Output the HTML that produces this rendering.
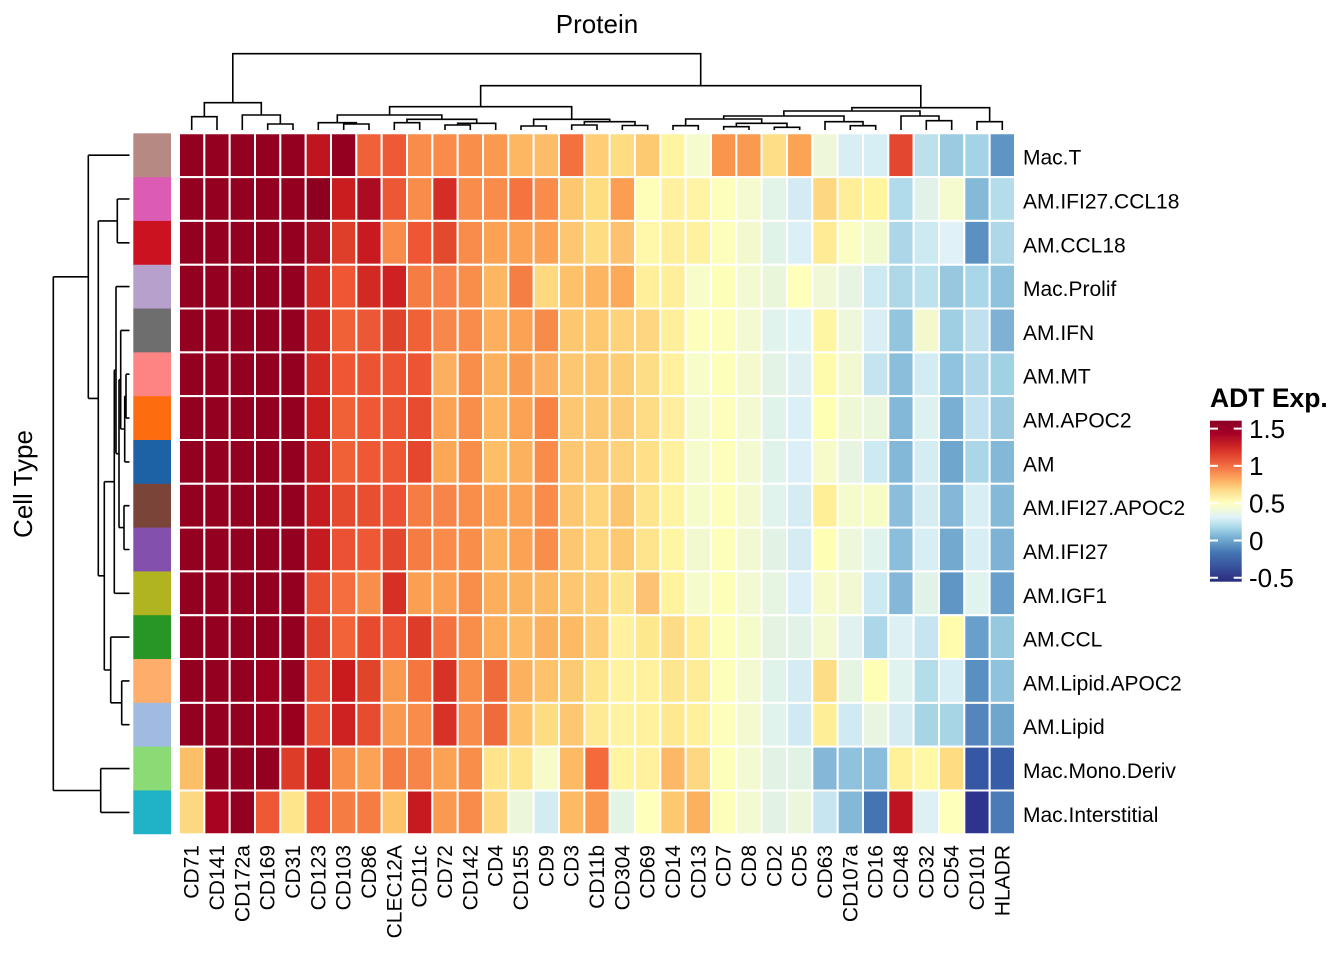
<!DOCTYPE html>
<html><head><meta charset="utf-8"><style>
html,body{margin:0;padding:0;background:#fff}
svg{display:block}
.h rect{vector-effect:non-scaling-stroke}
text{font-family:"Liberation Sans",Arial,sans-serif;fill:#000}
</style></head><body>
<svg width="1344" height="960" viewBox="0 0 1344 960" xmlns="http://www.w3.org/2000/svg">
<rect width="1344" height="960" fill="#fff"/>
<text x="597" y="33" font-size="26" text-anchor="middle">Protein</text>
<text transform="translate(32,484) rotate(-90)" font-size="26" text-anchor="middle">Cell Type</text>

<!-- top dendrogram -->
<path fill="none" stroke="#000" stroke-width="1.6" d="
M191.7 130V116.7H217V130
M267.7 130V124H293V130
M242.3 130V115H280.35V124
M204.35 116.7V102.7H261.3V115
M343.7 130V124H369V130
M318.3 130V122.7H356.35V124
M394.3 130V122.7H419.7V130
M445 130V125H470.3V130
M457.65 125V123.3H495.7V130
M407 122.7V119.3H476.7V123.3
M337.3 122.7V115H441.85V119.3
M521 130V126H546.3V130
M571.7 130V125H597V130
M622.3 130V125.5H647.7V130
M584.35 125V121.7H635V125.5
M533.65 126V119.3H609.7V121.7
M389.6 115V106.7H571.7V119.3
M673 130V125.7H698.3V130
M723.7 130V126.7H749V130
M774.3 130V127.3H799.7V130
M736.35 126.7V123.3H787V127.3
M685.65 125.7V119H761.7V123.3
M850.3 130V125.7H875.7V130
M825 130V121.7H863V125.7
M723.7 119V116H844V121.7
M926.3 130V120.7H951.7V130
M901 130V116H939V120.7
M783.85 116V111H920V116
M977 130V121.7H1002.3V130
M851.9 111V107.7H989.65V121.7
M480.65 106.7V85.7H920.8V107.7
M232.8 102.7V53.7H700.7V85.7"/>

<!-- left dendrogram -->
<path fill="none" stroke="#000" stroke-width="1.6" d="
M53.3 276.8V790.5 M53.3 276.8H88.3 M53.3 790.5H100.7
M88.3 155.2V398.4 M88.3 155.2H129.5 M88.3 398.4H98.3
M98.3 220.9V575.8 M98.3 220.9H117.3 M98.3 575.8H104.3
M117.3 199V242.8 M117.3 199H129.5 M117.3 242.8H129.5
M104.3 481.7V670 M104.3 481.7H114.3 M104.3 670H110.7
M110.7 637.1V702.8 M110.7 637.1H129.5 M110.7 702.8H121.7
M121.7 680.9V724.7 M121.7 680.9H129.5 M121.7 724.7H129.5
M114.3 370.1V593.3 M114.3 370.1H116 M114.3 593.3H129.5
M116 286.6V453.65 M116 286.6H129.5 M116 453.65H119
M119 379.7V527.6 M119 379.7H120.7 M119 527.6H124
M124 505.7V549.5 M124 505.7H129.5 M124 549.5H129.5
M120.7 330.4V429 M120.7 330.4H129.5 M120.7 429H124.7
M124.7 396.15V461.9 M124.7 396.15H126 M124.7 461.9H129.5
M126 374.2V418.1 M126 374.2H129.5 M126 418.1H129.5
M100.7 768.6V812.4 M100.7 768.6H129.5 M100.7 812.4H129.5"/>

<!-- annotation -->
<g transform="translate(133.3 133.3) scale(37.7 43.81)">
<rect x="0" y="0" width="1" height="1.02" fill="#B68A82"/>
<rect x="0" y="1" width="1" height="1.02" fill="#DC5CB4"/>
<rect x="0" y="2" width="1" height="1.02" fill="#CB1220"/>
<rect x="0" y="3" width="1" height="1.02" fill="#B8A0CC"/>
<rect x="0" y="4" width="1" height="1.02" fill="#6E6E6E"/>
<rect x="0" y="5" width="1" height="1.02" fill="#FE8484"/>
<rect x="0" y="6" width="1" height="1.02" fill="#FE6C10"/>
<rect x="0" y="7" width="1" height="1.02" fill="#1E62A6"/>
<rect x="0" y="8" width="1" height="1.02" fill="#7A4438"/>
<rect x="0" y="9" width="1" height="1.02" fill="#8450AE"/>
<rect x="0" y="10" width="1" height="1.02" fill="#B0B420"/>
<rect x="0" y="11" width="1" height="1.02" fill="#289626"/>
<rect x="0" y="12" width="1" height="1.02" fill="#FEAE6A"/>
<rect x="0" y="13" width="1" height="1.02" fill="#A0BAE2"/>
<rect x="0" y="14" width="1" height="1.02" fill="#8ADA76"/>
<rect x="0" y="15" width="1" height="1" fill="#20B2C6"/>
</g>

<!-- heatmap -->
<g class="h" transform="translate(179 133.3) scale(25.333 43.81)" stroke="#fff" stroke-width="2">
<g transform="translate(0 0)">
<rect x="0" width="1" height="1" fill="#940020"/><rect x="1" width="1" height="1" fill="#940020"/><rect x="2" width="1" height="1" fill="#940020"/><rect x="3" width="1" height="1" fill="#940020"/><rect x="4" width="1" height="1" fill="#940020"/><rect x="5" width="1" height="1" fill="#C0141F"/><rect x="6" width="1" height="1" fill="#940020"/><rect x="7" width="1" height="1" fill="#F06138"/><rect x="8" width="1" height="1" fill="#EE5A36"/><rect x="9" width="1" height="1" fill="#F98C4A"/><rect x="10" width="1" height="1" fill="#F98C4A"/><rect x="11" width="1" height="1" fill="#F98E4A"/><rect x="12" width="1" height="1" fill="#F99A50"/><rect x="13" width="1" height="1" fill="#FDB762"/><rect x="14" width="1" height="1" fill="#FDBD68"/><rect x="15" width="1" height="1" fill="#F4713F"/><rect x="16" width="1" height="1" fill="#FDCE76"/><rect x="17" width="1" height="1" fill="#FEDC82"/><rect x="18" width="1" height="1" fill="#FDCA72"/><rect x="19" width="1" height="1" fill="#FFF4A0"/><rect x="20" width="1" height="1" fill="#F6FBCB"/><rect x="21" width="1" height="1" fill="#F9954C"/><rect x="22" width="1" height="1" fill="#F99A50"/><rect x="23" width="1" height="1" fill="#FEDF85"/><rect x="24" width="1" height="1" fill="#FCA455"/><rect x="25" width="1" height="1" fill="#EEF8D8"/><rect x="26" width="1" height="1" fill="#D8EEF5"/><rect x="27" width="1" height="1" fill="#D8EEF5"/><rect x="28" width="1" height="1" fill="#E3472F"/><rect x="29" width="1" height="1" fill="#BCE0EC"/><rect x="30" width="1" height="1" fill="#9ACBE1"/><rect x="31" width="1" height="1" fill="#A4D3E6"/><rect x="32" width="1" height="1" fill="#5F95C5"/>
</g>
<g transform="translate(0 1)">
<rect x="0" width="1" height="1" fill="#940020"/><rect x="1" width="1" height="1" fill="#940020"/><rect x="2" width="1" height="1" fill="#940020"/><rect x="3" width="1" height="1" fill="#940020"/><rect x="4" width="1" height="1" fill="#940020"/><rect x="5" width="1" height="1" fill="#8E0020"/><rect x="6" width="1" height="1" fill="#C91E1F"/><rect x="7" width="1" height="1" fill="#AC0C21"/><rect x="8" width="1" height="1" fill="#EC5836"/><rect x="9" width="1" height="1" fill="#F98C4A"/><rect x="10" width="1" height="1" fill="#D42D25"/><rect x="11" width="1" height="1" fill="#F98C4A"/><rect x="12" width="1" height="1" fill="#F98C4A"/><rect x="13" width="1" height="1" fill="#F4733F"/><rect x="14" width="1" height="1" fill="#F98C4A"/><rect x="15" width="1" height="1" fill="#FDC770"/><rect x="16" width="1" height="1" fill="#FEDC80"/><rect x="17" width="1" height="1" fill="#FC9E51"/><rect x="18" width="1" height="1" fill="#FEFEB8"/><rect x="19" width="1" height="1" fill="#FFF1A0"/><rect x="20" width="1" height="1" fill="#FFF3A4"/><rect x="21" width="1" height="1" fill="#FDFEBB"/><rect x="22" width="1" height="1" fill="#F6FBCF"/><rect x="23" width="1" height="1" fill="#E2F3E7"/><rect x="24" width="1" height="1" fill="#D4EBF3"/><rect x="25" width="1" height="1" fill="#FDD880"/><rect x="26" width="1" height="1" fill="#FFEE98"/><rect x="27" width="1" height="1" fill="#FFF59F"/><rect x="28" width="1" height="1" fill="#B1DAEA"/><rect x="29" width="1" height="1" fill="#E1F3E8"/><rect x="30" width="1" height="1" fill="#F6FBCF"/><rect x="31" width="1" height="1" fill="#85B9D8"/><rect x="32" width="1" height="1" fill="#B4DCEB"/>
</g>
<g transform="translate(0 2)">
<rect x="0" width="1" height="1" fill="#940020"/><rect x="1" width="1" height="1" fill="#940020"/><rect x="2" width="1" height="1" fill="#940020"/><rect x="3" width="1" height="1" fill="#940020"/><rect x="4" width="1" height="1" fill="#940020"/><rect x="5" width="1" height="1" fill="#A90C21"/><rect x="6" width="1" height="1" fill="#DE3F2A"/><rect x="7" width="1" height="1" fill="#C81A1F"/><rect x="8" width="1" height="1" fill="#F98C4A"/><rect x="9" width="1" height="1" fill="#EE5634"/><rect x="10" width="1" height="1" fill="#E24A2D"/><rect x="11" width="1" height="1" fill="#F98C4A"/><rect x="12" width="1" height="1" fill="#FBA255"/><rect x="13" width="1" height="1" fill="#FBA255"/><rect x="14" width="1" height="1" fill="#FBA255"/><rect x="15" width="1" height="1" fill="#FDC670"/><rect x="16" width="1" height="1" fill="#FEDC82"/><rect x="17" width="1" height="1" fill="#FDC270"/><rect x="18" width="1" height="1" fill="#FFF8AA"/><rect x="19" width="1" height="1" fill="#FFEE9A"/><rect x="20" width="1" height="1" fill="#FFF29E"/><rect x="21" width="1" height="1" fill="#FDFEBB"/><rect x="22" width="1" height="1" fill="#F3F9CC"/><rect x="23" width="1" height="1" fill="#E0F3E8"/><rect x="24" width="1" height="1" fill="#DAEFF6"/><rect x="25" width="1" height="1" fill="#FFEA96"/><rect x="26" width="1" height="1" fill="#FBFEC0"/><rect x="27" width="1" height="1" fill="#F1F9CF"/><rect x="28" width="1" height="1" fill="#ACD7E8"/><rect x="29" width="1" height="1" fill="#CDE9F2"/><rect x="30" width="1" height="1" fill="#E0F1F7"/><rect x="31" width="1" height="1" fill="#5B90C3"/><rect x="32" width="1" height="1" fill="#AED8E8"/>
</g>
<g transform="translate(0 3)">
<rect x="0" width="1" height="1" fill="#940020"/><rect x="1" width="1" height="1" fill="#940020"/><rect x="2" width="1" height="1" fill="#940020"/><rect x="3" width="1" height="1" fill="#940020"/><rect x="4" width="1" height="1" fill="#940020"/><rect x="5" width="1" height="1" fill="#D32A23"/><rect x="6" width="1" height="1" fill="#EE5634"/><rect x="7" width="1" height="1" fill="#D22A23"/><rect x="8" width="1" height="1" fill="#CF2121"/><rect x="9" width="1" height="1" fill="#F57D43"/><rect x="10" width="1" height="1" fill="#F7834A"/><rect x="11" width="1" height="1" fill="#F98E4A"/><rect x="12" width="1" height="1" fill="#FDB762"/><rect x="13" width="1" height="1" fill="#F57F43"/><rect x="14" width="1" height="1" fill="#FED980"/><rect x="15" width="1" height="1" fill="#FDC16A"/><rect x="16" width="1" height="1" fill="#FDB562"/><rect x="17" width="1" height="1" fill="#FCA95A"/><rect x="18" width="1" height="1" fill="#FFEE9A"/><rect x="19" width="1" height="1" fill="#FFEE9A"/><rect x="20" width="1" height="1" fill="#F8FCC8"/><rect x="21" width="1" height="1" fill="#FDFEB7"/><rect x="22" width="1" height="1" fill="#F3F9D1"/><rect x="23" width="1" height="1" fill="#EAF6DA"/><rect x="24" width="1" height="1" fill="#FEFFBA"/><rect x="25" width="1" height="1" fill="#F1F8D5"/><rect x="26" width="1" height="1" fill="#E7F4E4"/><rect x="27" width="1" height="1" fill="#CDE9F2"/><rect x="28" width="1" height="1" fill="#AED8E8"/><rect x="29" width="1" height="1" fill="#BDE1ED"/><rect x="30" width="1" height="1" fill="#97C8E0"/><rect x="31" width="1" height="1" fill="#A9D6E8"/><rect x="32" width="1" height="1" fill="#8FC2DD"/>
</g>
<g transform="translate(0 4)">
<rect x="0" width="1" height="1" fill="#940020"/><rect x="1" width="1" height="1" fill="#940020"/><rect x="2" width="1" height="1" fill="#940020"/><rect x="3" width="1" height="1" fill="#940020"/><rect x="4" width="1" height="1" fill="#940020"/><rect x="5" width="1" height="1" fill="#D32A23"/><rect x="6" width="1" height="1" fill="#F06138"/><rect x="7" width="1" height="1" fill="#EC5836"/><rect x="8" width="1" height="1" fill="#E0432B"/><rect x="9" width="1" height="1" fill="#F06138"/><rect x="10" width="1" height="1" fill="#F7874A"/><rect x="11" width="1" height="1" fill="#F98C4A"/><rect x="12" width="1" height="1" fill="#FBAF5F"/><rect x="13" width="1" height="1" fill="#FBA255"/><rect x="14" width="1" height="1" fill="#F78B4A"/><rect x="15" width="1" height="1" fill="#FDC770"/><rect x="16" width="1" height="1" fill="#FDC870"/><rect x="17" width="1" height="1" fill="#FDD27A"/><rect x="18" width="1" height="1" fill="#FED680"/><rect x="19" width="1" height="1" fill="#FFEE9A"/><rect x="20" width="1" height="1" fill="#FDFEBB"/><rect x="21" width="1" height="1" fill="#FDFEBB"/><rect x="22" width="1" height="1" fill="#F3F9D1"/><rect x="23" width="1" height="1" fill="#E0F3EC"/><rect x="24" width="1" height="1" fill="#DFF2F4"/><rect x="25" width="1" height="1" fill="#FFF6A4"/><rect x="26" width="1" height="1" fill="#EDF7DA"/><rect x="27" width="1" height="1" fill="#DAEEF6"/><rect x="28" width="1" height="1" fill="#93C5DE"/><rect x="29" width="1" height="1" fill="#F3F9CC"/><rect x="30" width="1" height="1" fill="#9ECFE3"/><rect x="31" width="1" height="1" fill="#C0E0EE"/><rect x="32" width="1" height="1" fill="#7FB1D4"/>
</g>
<g transform="translate(0 5)">
<rect x="0" width="1" height="1" fill="#940020"/><rect x="1" width="1" height="1" fill="#940020"/><rect x="2" width="1" height="1" fill="#940020"/><rect x="3" width="1" height="1" fill="#940020"/><rect x="4" width="1" height="1" fill="#940020"/><rect x="5" width="1" height="1" fill="#D32A23"/><rect x="6" width="1" height="1" fill="#EE5634"/><rect x="7" width="1" height="1" fill="#EB5333"/><rect x="8" width="1" height="1" fill="#EC5434"/><rect x="9" width="1" height="1" fill="#EC5434"/><rect x="10" width="1" height="1" fill="#FBAF5F"/><rect x="11" width="1" height="1" fill="#F98E4A"/><rect x="12" width="1" height="1" fill="#FCB15F"/><rect x="13" width="1" height="1" fill="#F99C52"/><rect x="14" width="1" height="1" fill="#FBAF5F"/><rect x="15" width="1" height="1" fill="#FDC670"/><rect x="16" width="1" height="1" fill="#FDC670"/><rect x="17" width="1" height="1" fill="#FDCD76"/><rect x="18" width="1" height="1" fill="#FEDE84"/><rect x="19" width="1" height="1" fill="#FFF19E"/><rect x="20" width="1" height="1" fill="#F8FCC8"/><rect x="21" width="1" height="1" fill="#FDFEB9"/><rect x="22" width="1" height="1" fill="#F4F9CE"/><rect x="23" width="1" height="1" fill="#E3F3E6"/><rect x="24" width="1" height="1" fill="#DFF0F2"/><rect x="25" width="1" height="1" fill="#FFFBAC"/><rect x="26" width="1" height="1" fill="#F1F8D2"/><rect x="27" width="1" height="1" fill="#C5E4F0"/><rect x="28" width="1" height="1" fill="#8BBEDB"/><rect x="29" width="1" height="1" fill="#D3ECF3"/><rect x="30" width="1" height="1" fill="#90C3DD"/><rect x="31" width="1" height="1" fill="#B1D8EA"/><rect x="32" width="1" height="1" fill="#A0D2E3"/>
</g>
<g transform="translate(0 6)">
<rect x="0" width="1" height="1" fill="#940020"/><rect x="1" width="1" height="1" fill="#940020"/><rect x="2" width="1" height="1" fill="#940020"/><rect x="3" width="1" height="1" fill="#940020"/><rect x="4" width="1" height="1" fill="#940020"/><rect x="5" width="1" height="1" fill="#C81C1F"/><rect x="6" width="1" height="1" fill="#F06138"/><rect x="7" width="1" height="1" fill="#EE5834"/><rect x="8" width="1" height="1" fill="#EC5634"/><rect x="9" width="1" height="1" fill="#E84C30"/><rect x="10" width="1" height="1" fill="#FBA255"/><rect x="11" width="1" height="1" fill="#F98E4A"/><rect x="12" width="1" height="1" fill="#FCB560"/><rect x="13" width="1" height="1" fill="#FBA255"/><rect x="14" width="1" height="1" fill="#F78444"/><rect x="15" width="1" height="1" fill="#FDC670"/><rect x="16" width="1" height="1" fill="#FDC872"/><rect x="17" width="1" height="1" fill="#FDCA75"/><rect x="18" width="1" height="1" fill="#FEDC86"/><rect x="19" width="1" height="1" fill="#FFEE9E"/><rect x="20" width="1" height="1" fill="#F6FBCC"/><rect x="21" width="1" height="1" fill="#FDFEBB"/><rect x="22" width="1" height="1" fill="#F3F9D0"/><rect x="23" width="1" height="1" fill="#E0F3EB"/><rect x="24" width="1" height="1" fill="#DAEFF6"/><rect x="25" width="1" height="1" fill="#FEFFB2"/><rect x="26" width="1" height="1" fill="#EFF8D5"/><rect x="27" width="1" height="1" fill="#EBF7DC"/><rect x="28" width="1" height="1" fill="#84B8D8"/><rect x="29" width="1" height="1" fill="#DDF1F0"/><rect x="30" width="1" height="1" fill="#78AFD3"/><rect x="31" width="1" height="1" fill="#C2E2F0"/><rect x="32" width="1" height="1" fill="#9BCAE1"/>
</g>
<g transform="translate(0 7)">
<rect x="0" width="1" height="1" fill="#940020"/><rect x="1" width="1" height="1" fill="#940020"/><rect x="2" width="1" height="1" fill="#940020"/><rect x="3" width="1" height="1" fill="#940020"/><rect x="4" width="1" height="1" fill="#940020"/><rect x="5" width="1" height="1" fill="#C41C20"/><rect x="6" width="1" height="1" fill="#F06138"/><rect x="7" width="1" height="1" fill="#EE5834"/><rect x="8" width="1" height="1" fill="#EE5834"/><rect x="9" width="1" height="1" fill="#E5472E"/><rect x="10" width="1" height="1" fill="#FBA756"/><rect x="11" width="1" height="1" fill="#F98E4A"/><rect x="12" width="1" height="1" fill="#FDBE68"/><rect x="13" width="1" height="1" fill="#FCB15F"/><rect x="14" width="1" height="1" fill="#F98C4A"/><rect x="15" width="1" height="1" fill="#FDC670"/><rect x="16" width="1" height="1" fill="#FDC974"/><rect x="17" width="1" height="1" fill="#FDD27A"/><rect x="18" width="1" height="1" fill="#FEE088"/><rect x="19" width="1" height="1" fill="#FFF19E"/><rect x="20" width="1" height="1" fill="#F6FBCC"/><rect x="21" width="1" height="1" fill="#FDFEBB"/><rect x="22" width="1" height="1" fill="#F3F9D0"/><rect x="23" width="1" height="1" fill="#E0F3EB"/><rect x="24" width="1" height="1" fill="#DAEFF6"/><rect x="25" width="1" height="1" fill="#F6FBC9"/><rect x="26" width="1" height="1" fill="#E7F4E2"/><rect x="27" width="1" height="1" fill="#CDE9F2"/><rect x="28" width="1" height="1" fill="#84B8D8"/><rect x="29" width="1" height="1" fill="#D5ECF3"/><rect x="30" width="1" height="1" fill="#6FA6CD"/><rect x="31" width="1" height="1" fill="#AAD6E8"/><rect x="32" width="1" height="1" fill="#84B8D8"/>
</g>
<g transform="translate(0 8)">
<rect x="0" width="1" height="1" fill="#940020"/><rect x="1" width="1" height="1" fill="#940020"/><rect x="2" width="1" height="1" fill="#940020"/><rect x="3" width="1" height="1" fill="#940020"/><rect x="4" width="1" height="1" fill="#940020"/><rect x="5" width="1" height="1" fill="#C41A20"/><rect x="6" width="1" height="1" fill="#E64A2E"/><rect x="7" width="1" height="1" fill="#E84E30"/><rect x="8" width="1" height="1" fill="#EB5132"/><rect x="9" width="1" height="1" fill="#F57D43"/><rect x="10" width="1" height="1" fill="#F7854A"/><rect x="11" width="1" height="1" fill="#F98E4A"/><rect x="12" width="1" height="1" fill="#FBA255"/><rect x="13" width="1" height="1" fill="#FBA255"/><rect x="14" width="1" height="1" fill="#F98C4A"/><rect x="15" width="1" height="1" fill="#FDC670"/><rect x="16" width="1" height="1" fill="#FED57D"/><rect x="17" width="1" height="1" fill="#FDC46E"/><rect x="18" width="1" height="1" fill="#FEE48C"/><rect x="19" width="1" height="1" fill="#FFF4A2"/><rect x="20" width="1" height="1" fill="#F6FBCA"/><rect x="21" width="1" height="1" fill="#FDFEB9"/><rect x="22" width="1" height="1" fill="#F4F9D0"/><rect x="23" width="1" height="1" fill="#E0F3EC"/><rect x="24" width="1" height="1" fill="#D5ECF3"/><rect x="25" width="1" height="1" fill="#FFF098"/><rect x="26" width="1" height="1" fill="#F6FBCC"/><rect x="27" width="1" height="1" fill="#F7FCC6"/><rect x="28" width="1" height="1" fill="#8BBEDB"/><rect x="29" width="1" height="1" fill="#D5ECF3"/><rect x="30" width="1" height="1" fill="#85B8D8"/><rect x="31" width="1" height="1" fill="#D7EEF5"/><rect x="32" width="1" height="1" fill="#85B9D8"/>
</g>
<g transform="translate(0 9)">
<rect x="0" width="1" height="1" fill="#940020"/><rect x="1" width="1" height="1" fill="#940020"/><rect x="2" width="1" height="1" fill="#940020"/><rect x="3" width="1" height="1" fill="#940020"/><rect x="4" width="1" height="1" fill="#940020"/><rect x="5" width="1" height="1" fill="#C41A20"/><rect x="6" width="1" height="1" fill="#EB5133"/><rect x="7" width="1" height="1" fill="#EE5834"/><rect x="8" width="1" height="1" fill="#E3472E"/><rect x="9" width="1" height="1" fill="#F57D43"/><rect x="10" width="1" height="1" fill="#F98C4A"/><rect x="11" width="1" height="1" fill="#F98E4A"/><rect x="12" width="1" height="1" fill="#FCB15F"/><rect x="13" width="1" height="1" fill="#FBA255"/><rect x="14" width="1" height="1" fill="#F98E4A"/><rect x="15" width="1" height="1" fill="#FDC670"/><rect x="16" width="1" height="1" fill="#FED57D"/><rect x="17" width="1" height="1" fill="#FDC970"/><rect x="18" width="1" height="1" fill="#FEE48C"/><rect x="19" width="1" height="1" fill="#FFF6A4"/><rect x="20" width="1" height="1" fill="#F3F9CE"/><rect x="21" width="1" height="1" fill="#FDFEB9"/><rect x="22" width="1" height="1" fill="#F1F8D2"/><rect x="23" width="1" height="1" fill="#E2F3E6"/><rect x="24" width="1" height="1" fill="#D5ECF3"/><rect x="25" width="1" height="1" fill="#FEFFB5"/><rect x="26" width="1" height="1" fill="#EDF7DA"/><rect x="27" width="1" height="1" fill="#E0F3EC"/><rect x="28" width="1" height="1" fill="#8BBEDB"/><rect x="29" width="1" height="1" fill="#D8EEF5"/><rect x="30" width="1" height="1" fill="#73A8CF"/><rect x="31" width="1" height="1" fill="#D8EEF5"/><rect x="32" width="1" height="1" fill="#7FB3D6"/>
</g>
<g transform="translate(0 10)">
<rect x="0" width="1" height="1" fill="#940020"/><rect x="1" width="1" height="1" fill="#940020"/><rect x="2" width="1" height="1" fill="#940020"/><rect x="3" width="1" height="1" fill="#940020"/><rect x="4" width="1" height="1" fill="#940020"/><rect x="5" width="1" height="1" fill="#E84E30"/><rect x="6" width="1" height="1" fill="#F46E40"/><rect x="7" width="1" height="1" fill="#F98E4A"/><rect x="8" width="1" height="1" fill="#D62F26"/><rect x="9" width="1" height="1" fill="#FBA052"/><rect x="10" width="1" height="1" fill="#FBA052"/><rect x="11" width="1" height="1" fill="#F98E4A"/><rect x="12" width="1" height="1" fill="#FCAE5C"/><rect x="13" width="1" height="1" fill="#FCB35F"/><rect x="14" width="1" height="1" fill="#FDBA65"/><rect x="15" width="1" height="1" fill="#FDC670"/><rect x="16" width="1" height="1" fill="#FDCD77"/><rect x="17" width="1" height="1" fill="#FEE48A"/><rect x="18" width="1" height="1" fill="#FDC372"/><rect x="19" width="1" height="1" fill="#FFF39E"/><rect x="20" width="1" height="1" fill="#F6FBCC"/><rect x="21" width="1" height="1" fill="#FDFEB7"/><rect x="22" width="1" height="1" fill="#F3F9D3"/><rect x="23" width="1" height="1" fill="#E6F5E2"/><rect x="24" width="1" height="1" fill="#DAEFF6"/><rect x="25" width="1" height="1" fill="#F6FBC9"/><rect x="26" width="1" height="1" fill="#F1F8D2"/><rect x="27" width="1" height="1" fill="#CDE9F2"/><rect x="28" width="1" height="1" fill="#85B8D8"/><rect x="29" width="1" height="1" fill="#E1F3E8"/><rect x="30" width="1" height="1" fill="#6096C5"/><rect x="31" width="1" height="1" fill="#E0F3EE"/><rect x="32" width="1" height="1" fill="#68A0CB"/>
</g>
<g transform="translate(0 11)">
<rect x="0" width="1" height="1" fill="#940020"/><rect x="1" width="1" height="1" fill="#940020"/><rect x="2" width="1" height="1" fill="#940020"/><rect x="3" width="1" height="1" fill="#940020"/><rect x="4" width="1" height="1" fill="#940020"/><rect x="5" width="1" height="1" fill="#E04029"/><rect x="6" width="1" height="1" fill="#F26339"/><rect x="7" width="1" height="1" fill="#E84A2E"/><rect x="8" width="1" height="1" fill="#EC5434"/><rect x="9" width="1" height="1" fill="#DC3C28"/><rect x="10" width="1" height="1" fill="#F4723F"/><rect x="11" width="1" height="1" fill="#F98E4A"/><rect x="12" width="1" height="1" fill="#FCAE5C"/><rect x="13" width="1" height="1" fill="#FDBA65"/><rect x="14" width="1" height="1" fill="#FCB15F"/><rect x="15" width="1" height="1" fill="#FDBA65"/><rect x="16" width="1" height="1" fill="#FDCD77"/><rect x="17" width="1" height="1" fill="#FFF19E"/><rect x="18" width="1" height="1" fill="#FEE88E"/><rect x="19" width="1" height="1" fill="#FEDC86"/><rect x="20" width="1" height="1" fill="#FFEE9A"/><rect x="21" width="1" height="1" fill="#FDFEB9"/><rect x="22" width="1" height="1" fill="#F6FBCA"/><rect x="23" width="1" height="1" fill="#E5F4E2"/><rect x="24" width="1" height="1" fill="#E2F2E6"/><rect x="25" width="1" height="1" fill="#F3F9D0"/><rect x="26" width="1" height="1" fill="#DFF2F1"/><rect x="27" width="1" height="1" fill="#ACD7E8"/><rect x="28" width="1" height="1" fill="#DDF1F4"/><rect x="29" width="1" height="1" fill="#C6E5F0"/><rect x="30" width="1" height="1" fill="#FFFCAC"/><rect x="31" width="1" height="1" fill="#68A0CB"/><rect x="32" width="1" height="1" fill="#96C8E0"/>
</g>
<g transform="translate(0 12)">
<rect x="0" width="1" height="1" fill="#940020"/><rect x="1" width="1" height="1" fill="#940020"/><rect x="2" width="1" height="1" fill="#940020"/><rect x="3" width="1" height="1" fill="#9C001E"/><rect x="4" width="1" height="1" fill="#940020"/><rect x="5" width="1" height="1" fill="#E84E30"/><rect x="6" width="1" height="1" fill="#C91B1E"/><rect x="7" width="1" height="1" fill="#E04429"/><rect x="8" width="1" height="1" fill="#FA9A50"/><rect x="9" width="1" height="1" fill="#F57740"/><rect x="10" width="1" height="1" fill="#D63226"/><rect x="11" width="1" height="1" fill="#F98E4A"/><rect x="12" width="1" height="1" fill="#F06B3C"/><rect x="13" width="1" height="1" fill="#FCB15F"/><rect x="14" width="1" height="1" fill="#FDC26A"/><rect x="15" width="1" height="1" fill="#FDCA74"/><rect x="16" width="1" height="1" fill="#FEE48B"/><rect x="17" width="1" height="1" fill="#FFF2A0"/><rect x="18" width="1" height="1" fill="#FFF19E"/><rect x="19" width="1" height="1" fill="#FEE690"/><rect x="20" width="1" height="1" fill="#FFEC96"/><rect x="21" width="1" height="1" fill="#FDFEB9"/><rect x="22" width="1" height="1" fill="#F3F9D0"/><rect x="23" width="1" height="1" fill="#E0F3EB"/><rect x="24" width="1" height="1" fill="#D5ECF3"/><rect x="25" width="1" height="1" fill="#FDDE84"/><rect x="26" width="1" height="1" fill="#E6F5E2"/><rect x="27" width="1" height="1" fill="#FEFFB5"/><rect x="28" width="1" height="1" fill="#E0F3EE"/><rect x="29" width="1" height="1" fill="#B4DDEA"/><rect x="30" width="1" height="1" fill="#D8EEF5"/><rect x="31" width="1" height="1" fill="#5A8FC1"/><rect x="32" width="1" height="1" fill="#8FC2DD"/>
</g>
<g transform="translate(0 13)">
<rect x="0" width="1" height="1" fill="#940020"/><rect x="1" width="1" height="1" fill="#940020"/><rect x="2" width="1" height="1" fill="#940020"/><rect x="3" width="1" height="1" fill="#9C001E"/><rect x="4" width="1" height="1" fill="#9A001E"/><rect x="5" width="1" height="1" fill="#E84E30"/><rect x="6" width="1" height="1" fill="#CD2222"/><rect x="7" width="1" height="1" fill="#E84C30"/><rect x="8" width="1" height="1" fill="#FA9A50"/><rect x="9" width="1" height="1" fill="#F98C4A"/><rect x="10" width="1" height="1" fill="#D63226"/><rect x="11" width="1" height="1" fill="#F98C4A"/><rect x="12" width="1" height="1" fill="#F06B3C"/><rect x="13" width="1" height="1" fill="#FDC26A"/><rect x="14" width="1" height="1" fill="#FEDC80"/><rect x="15" width="1" height="1" fill="#FDC670"/><rect x="16" width="1" height="1" fill="#FEE994"/><rect x="17" width="1" height="1" fill="#FFF2A0"/><rect x="18" width="1" height="1" fill="#FFF19E"/><rect x="19" width="1" height="1" fill="#FEE890"/><rect x="20" width="1" height="1" fill="#FFF19C"/><rect x="21" width="1" height="1" fill="#FDFEBB"/><rect x="22" width="1" height="1" fill="#F4F9D0"/><rect x="23" width="1" height="1" fill="#E0F3EC"/><rect x="24" width="1" height="1" fill="#D0E9F2"/><rect x="25" width="1" height="1" fill="#FFEE98"/><rect x="26" width="1" height="1" fill="#CFEAF3"/><rect x="27" width="1" height="1" fill="#E8F5E0"/><rect x="28" width="1" height="1" fill="#D5ECF3"/><rect x="29" width="1" height="1" fill="#A8D5E5"/><rect x="30" width="1" height="1" fill="#A8D5E5"/><rect x="31" width="1" height="1" fill="#5485BD"/><rect x="32" width="1" height="1" fill="#6FA6CD"/>
</g>
<g transform="translate(0 14)">
<rect x="0" width="1" height="1" fill="#FDBE68"/><rect x="1" width="1" height="1" fill="#940020"/><rect x="2" width="1" height="1" fill="#940020"/><rect x="3" width="1" height="1" fill="#940020"/><rect x="4" width="1" height="1" fill="#DC3C28"/><rect x="5" width="1" height="1" fill="#C41A20"/><rect x="6" width="1" height="1" fill="#F98E4A"/><rect x="7" width="1" height="1" fill="#FBA255"/><rect x="8" width="1" height="1" fill="#F57D43"/><rect x="9" width="1" height="1" fill="#F7854A"/><rect x="10" width="1" height="1" fill="#FBA255"/><rect x="11" width="1" height="1" fill="#F98E4A"/><rect x="12" width="1" height="1" fill="#FEE48A"/><rect x="13" width="1" height="1" fill="#FEE48A"/><rect x="14" width="1" height="1" fill="#F6FBC8"/><rect x="15" width="1" height="1" fill="#FDBA65"/><rect x="16" width="1" height="1" fill="#F46A3B"/><rect x="17" width="1" height="1" fill="#FFF4A0"/><rect x="18" width="1" height="1" fill="#FFF19E"/><rect x="19" width="1" height="1" fill="#FDB865"/><rect x="20" width="1" height="1" fill="#FDD880"/><rect x="21" width="1" height="1" fill="#FDFEB9"/><rect x="22" width="1" height="1" fill="#F3F9D1"/><rect x="23" width="1" height="1" fill="#E2F3E6"/><rect x="24" width="1" height="1" fill="#E2F3E6"/><rect x="25" width="1" height="1" fill="#85B8D8"/><rect x="26" width="1" height="1" fill="#8FC2DD"/><rect x="27" width="1" height="1" fill="#8ABDDB"/><rect x="28" width="1" height="1" fill="#FFF09A"/><rect x="29" width="1" height="1" fill="#FFF9A6"/><rect x="30" width="1" height="1" fill="#FDDC82"/><rect x="31" width="1" height="1" fill="#3657A4"/><rect x="32" width="1" height="1" fill="#375DA8"/>
</g>
<g transform="translate(0 15)">
<rect x="0" width="1" height="1" fill="#FED880"/><rect x="1" width="1" height="1" fill="#A8031F"/><rect x="2" width="1" height="1" fill="#940020"/><rect x="3" width="1" height="1" fill="#EE5834"/><rect x="4" width="1" height="1" fill="#FEE48A"/><rect x="5" width="1" height="1" fill="#EE5834"/><rect x="6" width="1" height="1" fill="#F57D43"/><rect x="7" width="1" height="1" fill="#F57D43"/><rect x="8" width="1" height="1" fill="#FDC26A"/><rect x="9" width="1" height="1" fill="#C41A20"/><rect x="10" width="1" height="1" fill="#FA9A50"/><rect x="11" width="1" height="1" fill="#F98C4A"/><rect x="12" width="1" height="1" fill="#FED880"/><rect x="13" width="1" height="1" fill="#EBF6DA"/><rect x="14" width="1" height="1" fill="#D3ECF4"/><rect x="15" width="1" height="1" fill="#FDBA65"/><rect x="16" width="1" height="1" fill="#FA9A50"/><rect x="17" width="1" height="1" fill="#E3F3E4"/><rect x="18" width="1" height="1" fill="#FEFFBA"/><rect x="19" width="1" height="1" fill="#FEC870"/><rect x="20" width="1" height="1" fill="#FCB15F"/><rect x="21" width="1" height="1" fill="#FDFEB9"/><rect x="22" width="1" height="1" fill="#F3F9D0"/><rect x="23" width="1" height="1" fill="#E2F3E6"/><rect x="24" width="1" height="1" fill="#EBF6DA"/><rect x="25" width="1" height="1" fill="#C6E5F0"/><rect x="26" width="1" height="1" fill="#84B8D8"/><rect x="27" width="1" height="1" fill="#4574B2"/><rect x="28" width="1" height="1" fill="#BE1320"/><rect x="29" width="1" height="1" fill="#DDF1F4"/><rect x="30" width="1" height="1" fill="#FEFFBA"/><rect x="31" width="1" height="1" fill="#2E338E"/><rect x="32" width="1" height="1" fill="#4A7BB7"/>
</g>
</g>

<!-- row labels -->
<g font-size="21">
<text x="1023" y="164.7">Mac.T</text>
<text x="1023" y="208.5">AM.IFI27.CCL18</text>
<text x="1023" y="252.3">AM.CCL18</text>
<text x="1023" y="296.1">Mac.Prolif</text>
<text x="1023" y="339.9">AM.IFN</text>
<text x="1023" y="383.7">AM.MT</text>
<text x="1023" y="427.6">AM.APOC2</text>
<text x="1023" y="471.4">AM</text>
<text x="1023" y="515.2">AM.IFI27.APOC2</text>
<text x="1023" y="559">AM.IFI27</text>
<text x="1023" y="602.8">AM.IGF1</text>
<text x="1023" y="646.6">AM.CCL</text>
<text x="1023" y="690.4">AM.Lipid.APOC2</text>
<text x="1023" y="734.2">AM.Lipid</text>
<text x="1023" y="778.1">Mac.Mono.Deriv</text>
<text x="1023" y="821.9">Mac.Interstitial</text>
</g>

<!-- column labels -->
<g font-size="21" text-anchor="end">
<text transform="translate(198.7,845) rotate(-90)">CD71</text>
<text transform="translate(224,845) rotate(-90)">CD141</text>
<text transform="translate(249.3,845) rotate(-90)">CD172a</text>
<text transform="translate(274.7,845) rotate(-90)">CD169</text>
<text transform="translate(300,845) rotate(-90)">CD31</text>
<text transform="translate(325.3,845) rotate(-90)">CD123</text>
<text transform="translate(350.7,845) rotate(-90)">CD103</text>
<text transform="translate(376,845) rotate(-90)">CD86</text>
<text transform="translate(401.3,845) rotate(-90)">CLEC12A</text>
<text transform="translate(426.7,845) rotate(-90)">CD11c</text>
<text transform="translate(452,845) rotate(-90)">CD72</text>
<text transform="translate(477.3,845) rotate(-90)">CD142</text>
<text transform="translate(502.7,845) rotate(-90)">CD4</text>
<text transform="translate(528,845) rotate(-90)">CD155</text>
<text transform="translate(553.3,845) rotate(-90)">CD9</text>
<text transform="translate(578.7,845) rotate(-90)">CD3</text>
<text transform="translate(604,845) rotate(-90)">CD11b</text>
<text transform="translate(629.3,845) rotate(-90)">CD304</text>
<text transform="translate(654.7,845) rotate(-90)">CD69</text>
<text transform="translate(680,845) rotate(-90)">CD14</text>
<text transform="translate(705.3,845) rotate(-90)">CD13</text>
<text transform="translate(730.7,845) rotate(-90)">CD7</text>
<text transform="translate(756,845) rotate(-90)">CD8</text>
<text transform="translate(781.3,845) rotate(-90)">CD2</text>
<text transform="translate(806.7,845) rotate(-90)">CD5</text>
<text transform="translate(832,845) rotate(-90)">CD63</text>
<text transform="translate(857.3,845) rotate(-90)">CD107a</text>
<text transform="translate(882.7,845) rotate(-90)">CD16</text>
<text transform="translate(908,845) rotate(-90)">CD48</text>
<text transform="translate(933.3,845) rotate(-90)">CD32</text>
<text transform="translate(958.7,845) rotate(-90)">CD54</text>
<text transform="translate(984,845) rotate(-90)">CD101</text>
<text transform="translate(1009.3,845) rotate(-90)">HLADR</text>
</g>

<!-- legend -->
<defs>
<linearGradient id="lg" x1="0" y1="0" x2="0" y2="1">
<stop offset="0" stop-color="#8C0026"/>
<stop offset="0.08" stop-color="#A50026"/>
<stop offset="0.18" stop-color="#D73027"/>
<stop offset="0.28" stop-color="#F46D43"/>
<stop offset="0.37" stop-color="#FDAE61"/>
<stop offset="0.44" stop-color="#FEE090"/>
<stop offset="0.51" stop-color="#FFFFBF"/>
<stop offset="0.60" stop-color="#E0F3F8"/>
<stop offset="0.66" stop-color="#ABD9E9"/>
<stop offset="0.73" stop-color="#74ADD1"/>
<stop offset="0.82" stop-color="#4575B4"/>
<stop offset="1" stop-color="#2A2C80"/>
</linearGradient>
</defs>
<text x="1210" y="407" font-size="26.5" font-weight="bold">ADT Exp.</text>
<rect x="1210" y="420.7" width="31.7" height="161" fill="url(#lg)"/>
<g stroke="#fff" stroke-width="2">
<path d="M1210 428.6H1218M1233.7 428.6H1241.7"/>
<path d="M1210 465.9H1218M1233.7 465.9H1241.7"/>
<path d="M1210 503.2H1218M1233.7 503.2H1241.7"/>
<path d="M1210 540.5H1218M1233.7 540.5H1241.7"/>
<path d="M1210 577.8H1218M1233.7 577.8H1241.7"/>
</g>
<g font-size="26">
<text x="1249" y="437.9">1.5</text>
<text x="1249" y="475.2">1</text>
<text x="1249" y="512.5">0.5</text>
<text x="1249" y="549.8">0</text>
<text x="1249" y="587.1">-0.5</text>
</g>
</svg>
</body></html>
